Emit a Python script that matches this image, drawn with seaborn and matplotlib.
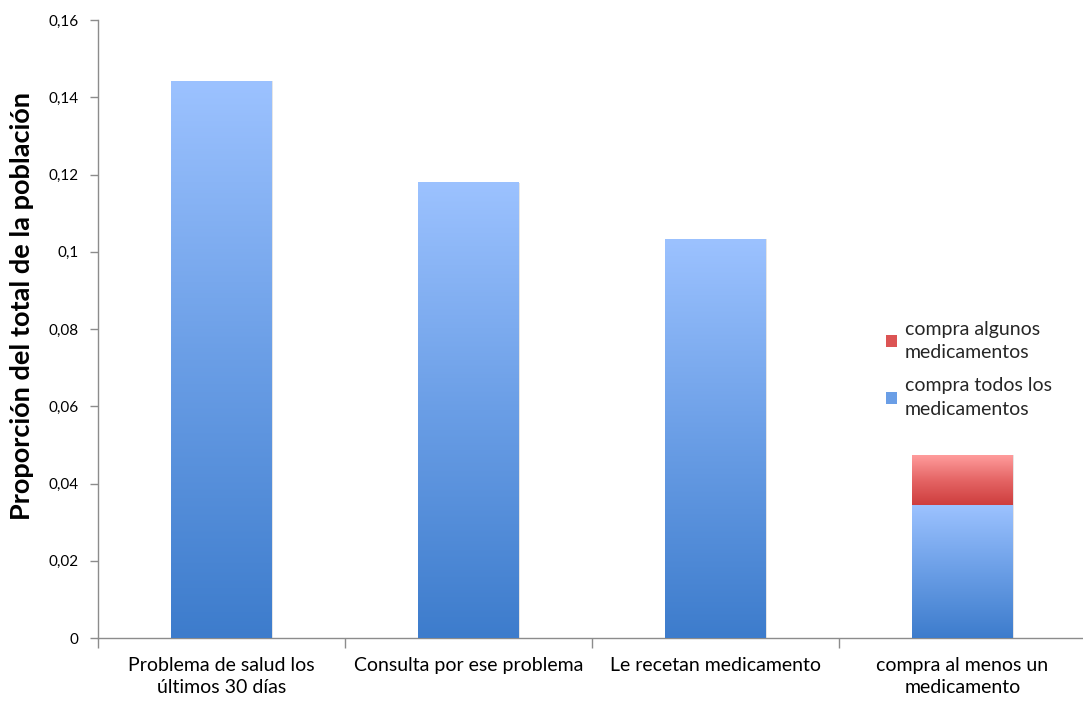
import numpy as np
import pandas as pd
import matplotlib
matplotlib.use("Agg")
import matplotlib.pyplot as plt
from matplotlib.colors import LinearSegmentedColormap
from matplotlib.patches import Patch
from matplotlib.ticker import FixedLocator
import seaborn as sns

categorias = ["Problema de salud los\núltimos 30 días",
              "Consulta por ese problema",
              "Le recetan medicamento",
              "compra al menos un\nmedicamento"]
compra_todos = [0.1442, 0.1178, 0.1033, 0.0342]
compra_algunos = [0.0, 0.0, 0.0, 0.0132]
yticks = [0, 0.02, 0.04, 0.06, 0.08, 0.10, 0.12, 0.14, 0.16]
ytick_labels = ["0", "0,02", "0,04", "0,06", "0,08", "0,1", "0,12", "0,14", "0,16"]

sns.set_theme(style="white")
plt.rcParams["font.family"] = ["Lato", "DejaVu Sans"]

df = pd.DataFrame({
    "categoria": categorias,
    "todos": compra_todos,
    "algunos": compra_algunos,
})
df["total"] = df["todos"] + df["algunos"]

fig = plt.figure(figsize=(10.83, 7.02), dpi=100)
ax = fig.add_axes([98 / 1083, 64 / 702, 988 / 1083, 618 / 702])

bar_w = 0.405
sns.barplot(data=df, x="categoria", y="total", color="#d04040", width=bar_w, ax=ax)
n_red = len(ax.patches)
sns.barplot(data=df, x="categoria", y="todos", color="#6a9ee6", width=bar_w, ax=ax)

blue_cmap = LinearSegmentedColormap.from_list("azul", ["#3d7ccc", "#6a9ee6", "#9cc2ff"])
red_cmap = LinearSegmentedColormap.from_list("rojo", ["#cd3c3c", "#e46464", "#ff9c9c"])
grad = np.linspace(0, 1, 256).reshape(-1, 1)

red_patches = ax.patches[:n_red]
blue_patches = ax.patches[n_red:]

def fill_gradient(patch, y0, y1, cmap, z):
    x0 = patch.get_x()
    w = patch.get_width()
    if y1 - y0 <= 0:
        return
    # soft shadow on the right edge
    ax.add_patch(plt.Rectangle((x0 + 0.008, y0), w, y1 - y0, facecolor="#000000",
                               alpha=0.10, edgecolor="none", zorder=z - 0.5))
    ax.imshow(grad, extent=[x0, x0 + w, y0, y1], origin="lower", aspect="auto",
              cmap=cmap, zorder=z, interpolation="bicubic")

for p, base, top in zip(red_patches, df["todos"], df["total"]):
    p.set_visible(False)
    fill_gradient(p, base, top, red_cmap, 3)
for p, top in zip(blue_patches, df["todos"]):
    p.set_visible(False)
    fill_gradient(p, 0, top, blue_cmap, 3)

ax.set_xlim(-0.5, 3.5)
ax.set_ylim(0, 0.16)
ax.yaxis.set_major_locator(FixedLocator(yticks))
ax.set_yticklabels(ytick_labels)
ax.xaxis.set_minor_locator(FixedLocator([-0.5, 0.5, 1.5, 2.5, 3.5]))
ax.tick_params(axis="x", which="major", length=0, labelsize=14, pad=14, colors="#000000")
ax.tick_params(axis="x", which="minor", length=7, width=1, color="#8c8c8c", direction="out", bottom=True)
ax.tick_params(axis="y", length=6, width=1, color="#8c8c8c", direction="out", left=True,
               labelsize=11, colors="#000000", pad=8)
for lbl in ax.get_xticklabels():
    lbl.set_ha("center")
    lbl.set_linespacing(1.35)

for side in ["top", "right"]:
    ax.spines[side].set_visible(False)
for side in ["left", "bottom"]:
    ax.spines[side].set_color("#8c8c8c")
    ax.spines[side].set_linewidth(1)

ax.set_xlabel("")
ax.set_ylabel("Proporción del total de la población", fontsize=19.5, fontweight="bold",
              color="#000000")
ax.yaxis.set_label_coords(-64 / 988, (638 - 306) / 618)

handles = [Patch(facecolor="#dc5454", edgecolor="none"),
           Patch(facecolor="#6a9ee6", edgecolor="none")]
labels = ["compra algunos\nmedicamentos", "compra todos los\nmedicamentos"]
leg = fig.legend(handles, labels, loc="upper left", bbox_to_anchor=(868 / 1083, 1 - 303 / 702),
                 frameon=False, fontsize=14, handlelength=0.6, handleheight=0.6,
                 handletextpad=0.4, labelspacing=0.8)
for t in leg.get_texts():
    t.set_linespacing(1.5)

fig.savefig("out.png", dpi=100)
